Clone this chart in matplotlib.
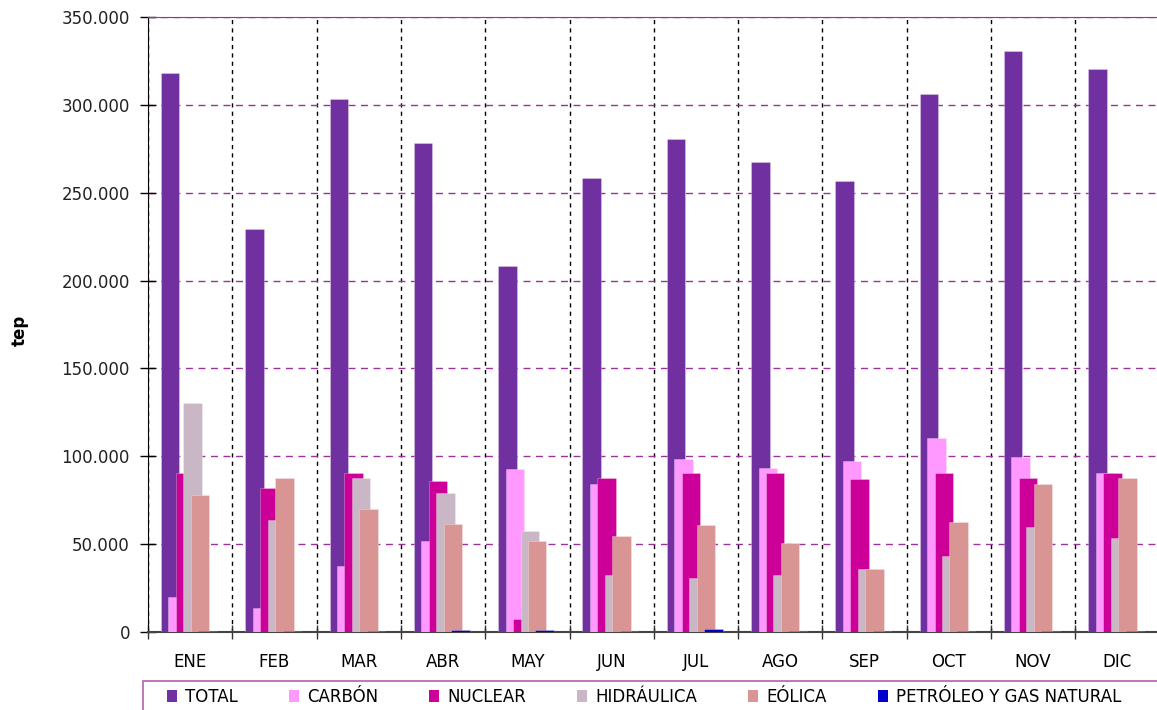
import numpy as np
import matplotlib
matplotlib.use("Agg")
import matplotlib.pyplot as plt
from matplotlib.patches import Patch, Rectangle
from matplotlib.ticker import FuncFormatter

# ── data (tep) ───────────────────────────────
meses = ["ENE", "FEB", "MAR", "ABR", "MAY", "JUN",
         "JUL", "AGO", "SEP", "OCT", "NOV", "DIC"]

total = [318000, 229200, 303200, 278500, 208100, 258200,
         280400, 267300, 256500, 306000, 330500, 320600]
carbon = [20100, 13800, 37700, 51600, 92600, 84200,
          98300, 93200, 97400, 110200, 99600, 90300]
nuclear = [90500, 82100, 90500, 86200, 7400, 87600,
           90500, 90400, 86800, 90300, 87600, 90300]
hidraulica = [130100, 63700, 87600, 79000, 57300, 32300,
              30600, 32700, 36100, 43400, 59800, 53300]
eolica = [77800, 87600, 70200, 61500, 51600, 54600,
          60900, 50900, 36100, 62400, 84000, 87600]
petroleo = [800, 700, 800, 900, 900, 700,
            1900, 800, 700, 300, 800, 700]

series = ["TOTAL", "CARBÓN", "NUCLEAR", "HIDRÁULICA", "EÓLICA",
          "PETRÓLEO Y GAS NATURAL"]
colores = ["#7030A0", "#FF99FF", "#CC0099", "#C9B7C6", "#D99594", "#0000CC"]

plt.rcParams["font.family"] = "DejaVu Sans"
fs = 12

fig = plt.figure(figsize=(11.57, 7.10), dpi=100)
ax = fig.add_axes([148 / 1157, 78 / 710, 1011.6 / 1157, 615 / 710])

# overlapping Excel-style bars, later series drawn on top
x = np.arange(len(meses))
ancho = 0.219
paso = 0.0884
inicio = -0.5 + 0.154
datos = [total, carbon, nuclear, hidraulica, eolica, petroleo]
for j, (vals, col) in enumerate(zip(datos, colores)):
    ax.bar(x + inicio + j * paso, vals, width=ancho, align="edge",
           color=col, edgecolor=(1, 1, 1, 0.3), linewidth=0.6,
           zorder=3 + j)

ax.set_xlim(-0.5, 11.5)
ax.set_ylim(0, 350000)
ax.set_yticks(np.arange(0, 350001, 50000))
ax.yaxis.set_major_formatter(
    FuncFormatter(lambda v, p: f"{int(v):,}".replace(",", ".")))

ax.set_xticks(x)
ax.set_xticklabels(meses)
ax.set_xticks(np.arange(-0.5, 12, 1), minor=True)
ax.tick_params(axis="x", which="major", length=0, pad=15, labelsize=fs,
               colors="#000000")
ax.tick_params(axis="x", which="minor", direction="inout", length=10,
               width=1, color="#333333")
ax.tick_params(axis="y", direction="inout", length=12, width=1, pad=7,
               labelsize=fs, labelcolor="#222222")

ax.grid(axis="y", which="major", color="#993399", linestyle=(0, (5, 4)),
        linewidth=1, zorder=1)
ax.grid(axis="x", which="minor", color="#000000", linestyle=(0, (3, 3)),
        linewidth=1, zorder=1)
ax.set_axisbelow(True)

ax.spines["top"].set_color("#993399")
ax.spines["right"].set_visible(False)
ax.spines["left"].set_color("#000000")
ax.spines["bottom"].set_color("#444444")
ax.spines["bottom"].set_linewidth(1.5)

fig.text(20 / 1157, 1 - 330 / 710, "tep", rotation=90, fontsize=fs,
         fontweight="bold", ha="center", va="center")

# legend box along the bottom
fig.patches.append(Rectangle((143 / 1157, -0.02), 0.9, 0.02 + 29 / 710,
                             transform=fig.transFigure, fill=False,
                             edgecolor="#B060B0", linewidth=1.2))
handles = [Patch(facecolor=c, edgecolor="none") for c in colores]
fig.legend(handles, series, loc="center left",
           bbox_to_anchor=(167 / 1157, 13 / 710), ncol=6, frameon=False,
           fontsize=fs, handlelength=0.6, handleheight=0.7,
           handletextpad=0.5, columnspacing=3.05, borderaxespad=0,
           borderpad=0)

fig.savefig("out.png", dpi=100)
